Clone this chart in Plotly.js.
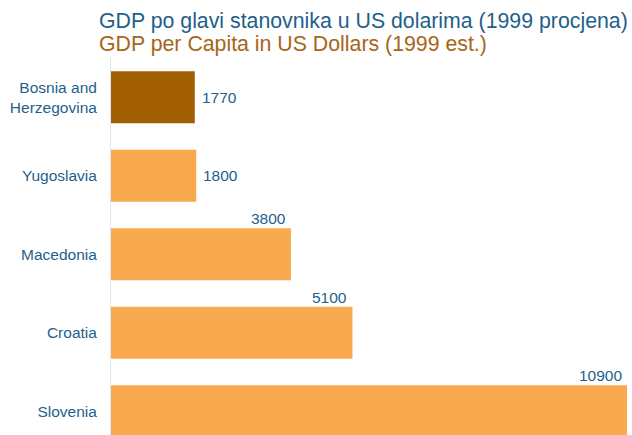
<!DOCTYPE html>
<html><head><meta charset="utf-8">
<script src="https://cdn.plot.ly/plotly-3.0.1.min.js"></script>
<style>html,body{margin:0;padding:0;background:#fff}#chart{width:632px;height:435px}</style>
</head><body><div id="chart"></div>
<script>
const categories = ["Bosnia and<br>Herzegovina", "Yugoslavia", "Macedonia", "Croatia", "Slovenia"];
const values = [1770, 1800, 3800, 5100, 10900];
const barColors = ["#a25e03", "#f9aa4f", "#f9aa4f", "#f9aa4f", "#f9aa4f"];
const titleLine1 = "GDP po glavi stanovnika u US dolarima (1999 procjena)";
const titleLine2 = "GDP per Capita in US Dollars (1999 est.)";

const blue = "#1f5f8b";
const brown = "#a5661a";
const fam = "Liberation Sans, Arial, sans-serif";
const labelFont = {family: fam, size: 15.5, color: blue};

const annotations = values.map((v, i) => {
  const small = v < 3000;
  return small ? {
    x: v, y: categories[i], xref: "x", yref: "y", text: String(v),
    showarrow: false, xanchor: "left", yanchor: "middle", xshift: 5, font: labelFont
  } : {
    x: v, y: categories[i], xref: "x", yref: "y", text: String(v),
    showarrow: false, xanchor: "right", yanchor: "bottom", yshift: 25, xshift: -3, font: labelFont
  };
});
annotations.push({
  text: titleLine1, xref: "paper", yref: "paper", x: -14/517, y: 1.097,
  xanchor: "left", yanchor: "middle", showarrow: false,
  font: {family: fam, size: 21.3, color: blue}
});
annotations.push({
  text: titleLine2, xref: "paper", yref: "paper", x: -14/517, y: 1.036,
  xanchor: "left", yanchor: "middle", showarrow: false,
  font: {family: fam, size: 21.3, color: brown}
});

const data = [{
  type: "bar", orientation: "h",
  x: values, y: categories,
  marker: {color: barColors},
  width: 0.66,
  hoverinfo: "none"
}];

const layout = {
  width: 632, height: 435,
  margin: {l: 111, r: 4, t: 58, b: 0},
  paper_bgcolor: "#fff", plot_bgcolor: "#fff",
  showlegend: false,
  xaxis: {range: [0, 10920], showgrid: false, zeroline: false, showticklabels: false, ticks: "", showline: false},
  yaxis: {
    type: "category", categoryorder: "array", categoryarray: categories,
    range: [4.303, -0.5], autorange: false,
    showgrid: false, zeroline: false, ticks: "",
    showline: true, linecolor: "#dbe7f2", linewidth: 1,
    tickfont: labelFont, ticklabelstandoff: 10
  },
  annotations: annotations
};

Plotly.newPlot("chart", data, layout, {staticPlot: true, displayModeBar: false});
</script></body></html>
